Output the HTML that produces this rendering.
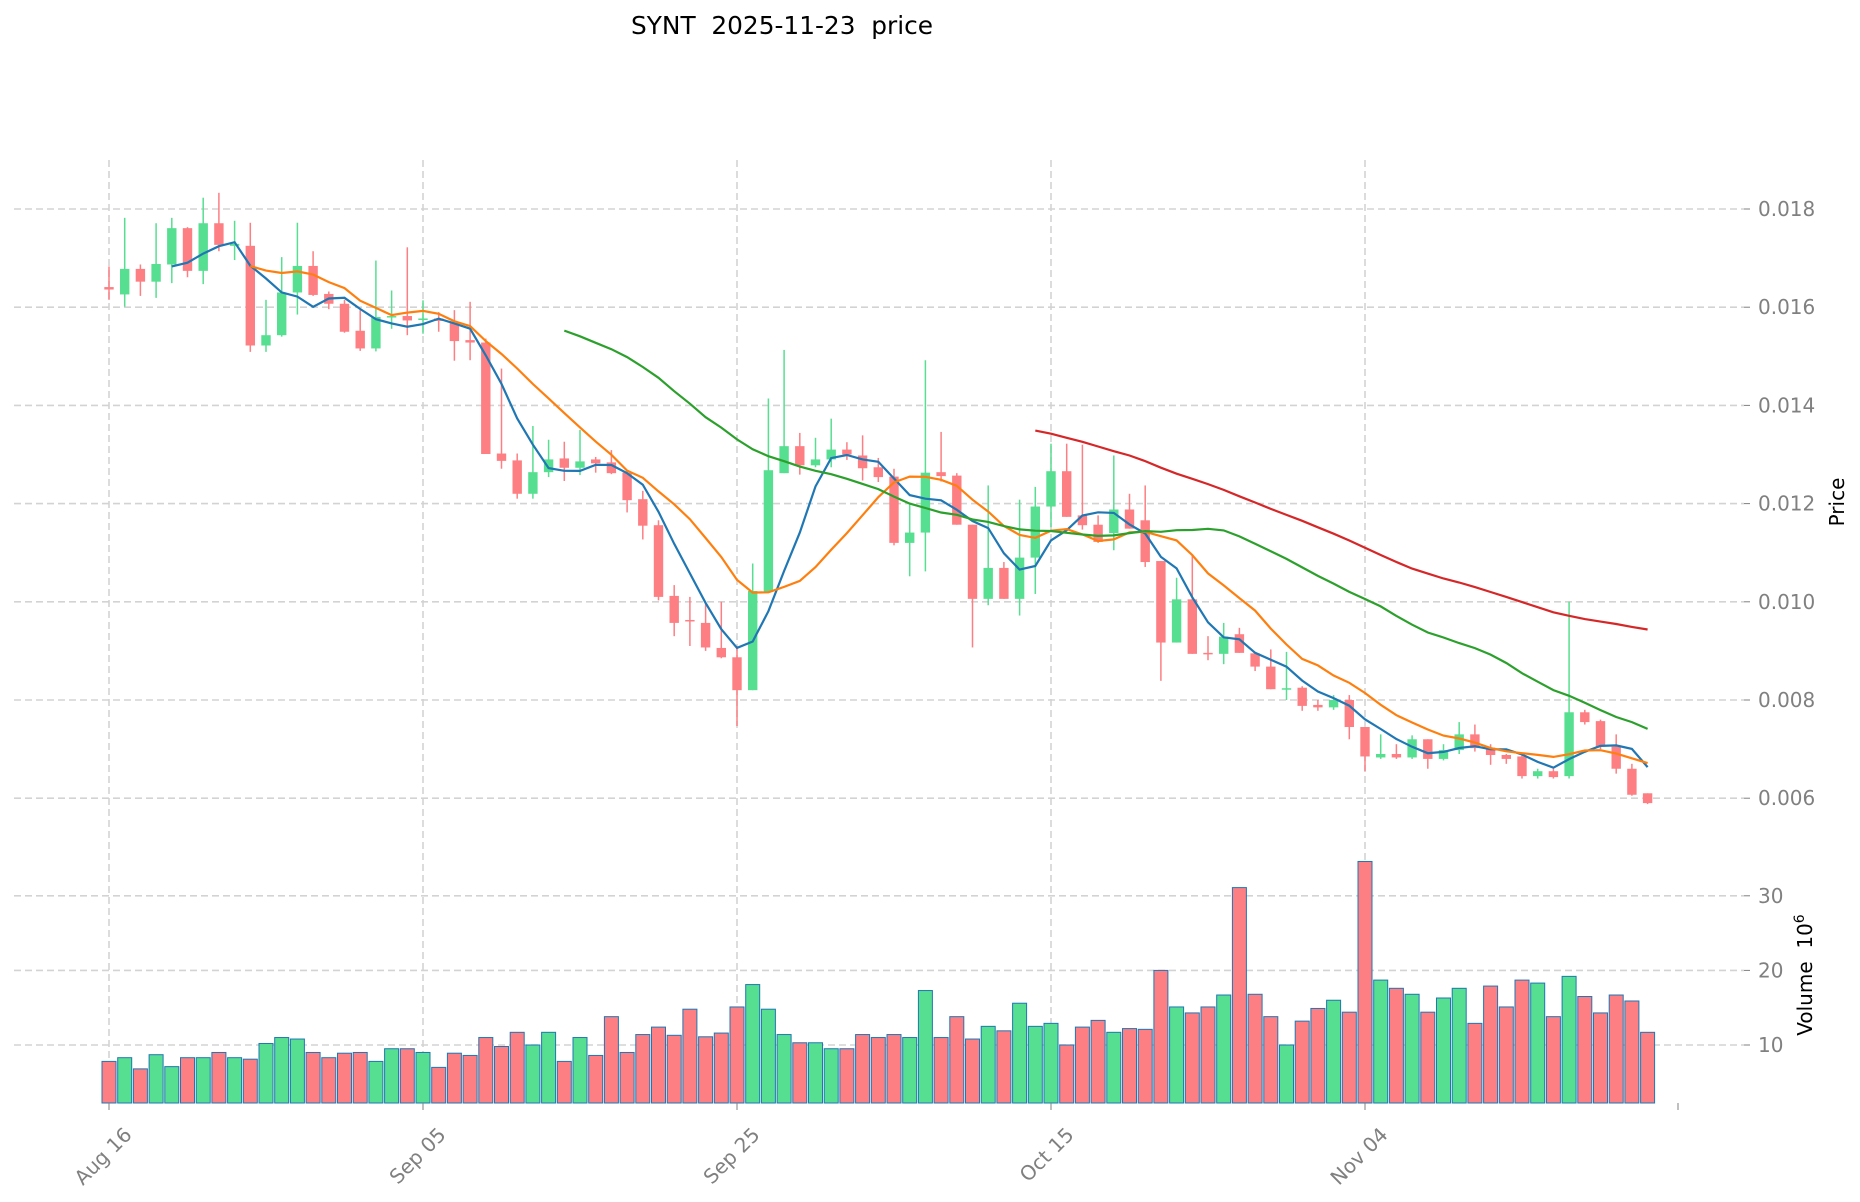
<!DOCTYPE html>
<html><head><meta charset="utf-8"><style>
html,body{margin:0;padding:0;background:#fff}
svg{display:block;font-family:"DejaVu Sans","Liberation Sans",sans-serif}
</style></head><body>
<svg id="chart" width="1860" height="1202" viewBox="0 0 1860 1202" xmlns="http://www.w3.org/2000/svg">
<text x="631" y="34" font-size="25" text-anchor="start" fill="#000" style="white-space:pre" xml:space="preserve" textLength="302" lengthAdjust="spacingAndGlyphs">SYNT  2025-11-23  price</text>
<g id="grid"></g>
<g id="vol"></g>
<g id="candles"></g>
<g id="mas"></g>
<g id="axes"></g>
<text x="1844" y="502" font-size="20" text-anchor="middle" transform="rotate(-90 1844 502)" fill="#000">Price</text>
<text x="1812" y="975" font-size="20" text-anchor="middle" transform="rotate(-90 1812 975)" fill="#000" style="white-space:pre" xml:space="preserve">Volume  10<tspan dy="-8" font-size="14">6</tspan></text>
</svg>
<script>
const opens=[0.01641,0.01626,0.01678,0.01652,0.01687,0.01761,0.01674,0.01771,0.01725,0.01725,0.01522,0.01543,0.0163,0.01684,0.01627,0.01607,0.01552,0.01516,0.0158,0.01582,0.01574,0.01577,0.01568,0.01533,0.01528,0.01302,0.01288,0.0122,0.01264,0.01292,0.01273,0.0129,0.01284,0.01263,0.01209,0.01156,0.01012,0.00963,0.00957,0.00906,0.00887,0.0082,0.0102,0.01262,0.01317,0.01278,0.0129,0.0131,0.01298,0.01274,0.01255,0.0112,0.01141,0.01264,0.01257,0.01157,0.01006,0.01069,0.01006,0.0109,0.01194,0.01266,0.01176,0.01157,0.0114,0.01188,0.01166,0.01083,0.00917,0.01005,0.00896,0.00894,0.00934,0.00895,0.00868,0.00822,0.00825,0.0079,0.00785,0.008,0.00745,0.00683,0.0069,0.00683,0.0072,0.0068,0.00698,0.0073,0.00703,0.00688,0.00685,0.00645,0.00655,0.00645,0.00775,0.00757,0.00705,0.0066,0.0061];
const closes=[0.01636,0.01678,0.01652,0.01688,0.01761,0.01674,0.01771,0.01727,0.01729,0.01522,0.01543,0.0163,0.01684,0.01625,0.01607,0.0155,0.01516,0.0158,0.01582,0.01573,0.01577,0.01572,0.01531,0.01528,0.01301,0.01287,0.0122,0.01264,0.0129,0.01273,0.01286,0.01282,0.01262,0.01207,0.01155,0.0101,0.00957,0.0096,0.00907,0.00887,0.0082,0.01022,0.01268,0.01317,0.01278,0.0129,0.0131,0.013,0.01272,0.01254,0.0112,0.01141,0.01263,0.01256,0.01157,0.01006,0.01069,0.01006,0.0109,0.01194,0.01266,0.01173,0.01156,0.01122,0.01188,0.01149,0.01081,0.00917,0.01005,0.00894,0.00894,0.00929,0.00896,0.00868,0.00822,0.00824,0.00788,0.00785,0.008,0.00745,0.00685,0.0069,0.00683,0.0072,0.0068,0.00698,0.0073,0.00702,0.00688,0.0068,0.00645,0.00655,0.00643,0.00775,0.00755,0.00705,0.0066,0.00607,0.0059];
const highs=[0.01683,0.01782,0.01687,0.01771,0.01782,0.01763,0.01823,0.01833,0.01776,0.01772,0.01615,0.01702,0.01772,0.01714,0.01632,0.01615,0.01594,0.01695,0.01634,0.01722,0.01614,0.0159,0.01594,0.01611,0.01536,0.01475,0.01302,0.01358,0.0133,0.01326,0.0135,0.01295,0.01309,0.01268,0.01226,0.01166,0.01034,0.0101,0.01,0.01,0.0091,0.01078,0.01414,0.01513,0.01344,0.01334,0.01373,0.01325,0.01339,0.01293,0.01271,0.01198,0.01492,0.01346,0.01262,0.01157,0.01237,0.01081,0.01208,0.01234,0.01322,0.01322,0.0132,0.01176,0.01298,0.0122,0.01237,0.01083,0.01049,0.01096,0.0093,0.00957,0.00947,0.00895,0.00903,0.00898,0.00828,0.008,0.0081,0.0081,0.00745,0.0073,0.0071,0.00728,0.0072,0.0071,0.00755,0.0075,0.0071,0.0069,0.0069,0.0066,0.0066,0.01,0.0078,0.0076,0.0073,0.0067,0.0061];
const lows=[0.01615,0.01601,0.01623,0.01619,0.01649,0.01661,0.01647,0.01714,0.01696,0.01509,0.01509,0.0154,0.01585,0.01623,0.01596,0.01548,0.01511,0.0151,0.01556,0.01543,0.01546,0.0155,0.01491,0.01492,0.01301,0.01271,0.0121,0.0121,0.01254,0.01246,0.01258,0.01263,0.0126,0.01182,0.01127,0.01003,0.0093,0.0091,0.009,0.00885,0.00747,0.0082,0.0102,0.01262,0.01259,0.01274,0.01274,0.01289,0.01247,0.01244,0.01115,0.01052,0.01062,0.01245,0.01157,0.00907,0.00993,0.01006,0.00972,0.01016,0.01152,0.01173,0.01147,0.0112,0.01105,0.01149,0.01071,0.00839,0.00917,0.00894,0.00881,0.00873,0.00896,0.00859,0.00822,0.008,0.00778,0.00778,0.0078,0.0072,0.00655,0.0068,0.0068,0.0068,0.0066,0.00677,0.0069,0.00695,0.00668,0.0067,0.0064,0.0064,0.0064,0.0064,0.0075,0.007,0.0065,0.00605,0.00588];
const volumes=[7.8,8.3,6.8,8.7,7.1,8.3,8.3,9.0,8.3,8.1,10.2,11.0,10.8,9.0,8.3,8.9,9.0,7.8,9.5,9.5,9.0,7.0,8.9,8.6,11.0,9.8,11.7,10.0,11.7,7.8,11.0,8.6,13.8,9.0,11.4,12.4,11.3,14.8,11.1,11.6,15.1,18.1,14.8,11.4,10.3,10.3,9.5,9.5,11.4,11.0,11.4,11.0,17.3,11.0,13.8,10.8,12.5,11.9,15.6,12.5,12.9,10.0,12.4,13.3,11.7,12.2,12.1,20.0,15.1,14.3,15.1,16.7,31.1,16.8,13.8,10.0,13.2,14.9,16.0,14.4,34.6,18.7,17.6,16.8,14.4,16.3,17.6,12.9,17.9,15.1,18.7,18.3,13.8,19.2,16.5,14.3,16.7,15.9,11.7];
const priceTicks=[0.006,0.008,0.010,0.012,0.014,0.016,0.018];
const volTicks=[10,20,30];
const dateTickIdx=[0,20,40,60,80];
const dateTickLabels=["Aug 16","Sep 05","Sep 25","Oct 15","Nov 04"];
const maPeriods=[5,10,30,60];
const maColors=["#1f77b4","#ff7f0e","#2ca02c","#d62728"];

const NS="http://www.w3.org/2000/svg";
const xOf=i=>109+i*15.7;
const yP=p=>209+(0.018-p)/0.002*98.2;
const yV=v=>1045-(v-10)*7.46;
const VBOT=1103;
const UP="#56df90",DN="#fd7f83";
function mk(tag,attrs,parent){const e=document.createElementNS(NS,tag);for(const k in attrs)e.setAttribute(k,attrs[k]);parent.appendChild(e);return e;}
const grid=document.getElementById('grid'),axes=document.getElementById('axes');
function yTick(y,label,name){
  const l=mk('line',{x1:14,x2:1744,y1:y,y2:y,stroke:"#d3d3d3","stroke-width":1.6,"stroke-dasharray":"7,4"},grid);
  
  
  mk('line',{x1:1744,x2:1750,y1:y,y2:y,stroke:"#808080","stroke-width":1},axes);
  const tx=mk('text',{x:1758,y:y+7,"font-size":20,fill:"#808080"},axes);
  tx.textContent=label;
  
  
}
priceTicks.forEach(t=>yTick(yP(t),t.toFixed(3),'price'));
volTicks.forEach(t=>yTick(yV(t),String(t),'volume'));
dateTickIdx.forEach((d,k)=>{
  const x=xOf(d);
  const l=mk('line',{x1:x,x2:x,y1:160,y2:VBOT,stroke:"#d3d3d3","stroke-width":1.6,"stroke-dasharray":"7,4"},grid);
  
  
  mk('line',{x1:x,x2:x,y1:VBOT,y2:VBOT+7,stroke:"#808080","stroke-width":1},axes);
  const ax=x+24,ay=VBOT+33;
  const tx=mk('text',{x:ax,y:ay,"font-size":20,fill:"#808080","text-anchor":"end",transform:`rotate(-45 ${ax} ${ay})`},axes);
  tx.textContent=dateTickLabels[k];
  
  
});
mk('line',{x1:1678,x2:1678,y1:VBOT,y2:VBOT+7,stroke:"#808080","stroke-width":1},axes);
const vol=document.getElementById('vol'),cg=document.getElementById('candles');
for(let i=0;i<closes.length;i++){
  const up=closes[i]>=opens[i],c=up?UP:DN,x=xOf(i);
  const yt=yV(volumes[i]);
  const b=mk('rect',{x:x-7,y:yt,width:14,height:VBOT-yt,fill:c,stroke:"#1f77b4","stroke-width":1},vol);
  
  
  const w=mk('line',{x1:x,x2:x,y1:yP(highs[i]),y2:yP(lows[i]),stroke:c,"stroke-width":1.5},cg);
  
  
  const t=yP(Math.max(opens[i],closes[i])),bo=yP(Math.min(opens[i],closes[i]));
  const r=mk('rect',{x:x-4.7,y:t,width:9.4,height:Math.max(bo-t,1.5),fill:c},cg);
  
  
}
const mas=document.getElementById('mas');
maPeriods.forEach((n,k)=>{
  const pts=[];
  for(let i=n-1;i<closes.length;i++){let s=0;for(let j=i-n+1;j<=i;j++)s+=closes[j];pts.push(xOf(i).toFixed(1)+","+yP(s/n).toFixed(1));}
  const p=mk('polyline',{points:pts.join(" "),fill:"none",stroke:maColors[k],"stroke-width":2.2},mas);
  
  
});
</script>
</body></html>
